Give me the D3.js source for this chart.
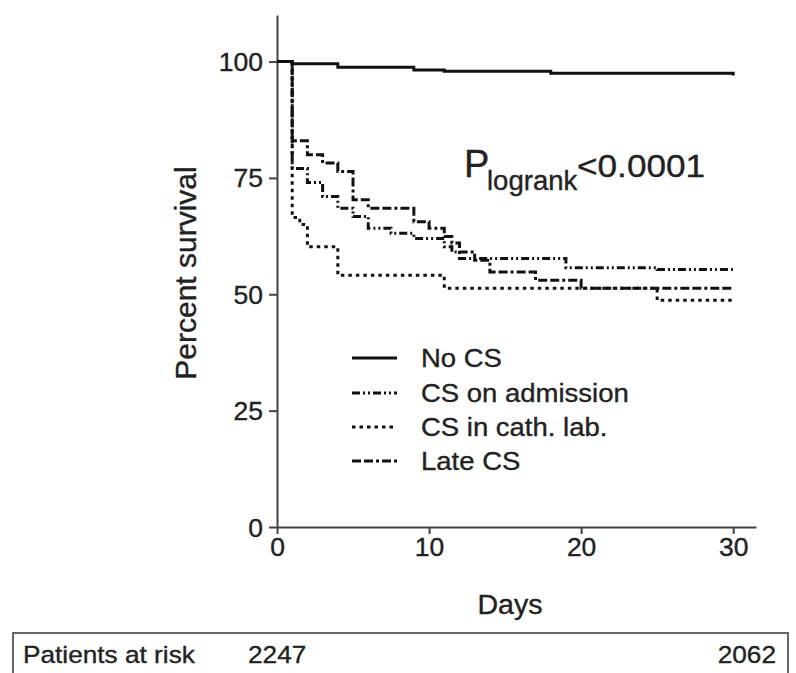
<!DOCTYPE html>
<html><head><meta charset="utf-8">
<script src="https://cdn.jsdelivr.net/npm/d3@7"></script>
<style>
html,body{margin:0;padding:0;background:#fff;}
svg{display:block;}
text{font-family:"Liberation Sans",Arial,Helvetica,sans-serif;fill:#222;stroke:#222;stroke-width:0.35px;}
</style></head>
<body>
<svg id="chart" width="796" height="673"></svg>
<script>
// ---- data ----
const seriesNames = ["No CS", "CS on admission", "CS in cath. lab.", "Late CS"];

const noCsDays = [0, 1, 4, 9, 11, 18, 30];
const noCsSurv = [100, 99.5, 98.8, 98.2, 97.9, 97.5, 97.0];

const admissionDays = [0, 1, 2, 3, 4, 5, 6, 7.5, 9, 11, 11.5, 12, 19, 25, 30];
const admissionSurv = [100, 77.0, 74.0, 71.0, 68.5, 66.7, 64.2, 63.1, 62.0, 60.2, 59.1, 57.7, 55.7, 55.3, 55.3];

const cathLabDays = [0, 1, 1.5, 2, 4, 11, 25, 30];
const cathLabSurv = [100, 66.5, 65.0, 60.2, 54.1, 51.3, 48.7, 48.7];

const lateDays = [0, 1, 2, 3, 4, 5, 6, 9, 10, 11, 11.5, 12, 13, 14, 17, 20, 30];
const lateSurv = [100, 83.0, 80.0, 78.2, 76.4, 70.3, 68.5, 65.6, 64.2, 62.4, 61.0, 59.1, 57.3, 54.8, 53.0, 51.3, 51.3];

const xTicks = [0, 10, 20, 30];
const yTicks = [0, 25, 50, 75, 100];
const riskLabel = "Patients at risk";
const riskValues = ["2247", "2062"];

// ---- drawing ----
const svg = d3.select("#chart");
const ink = "#222";

const x = d3.scaleLinear().domain([0, 31.5]).range([277, 756]);
const y = d3.scaleLinear().domain([0, 110]).range([527, 15]);

function stext(parent, px, py, str, size, anchor, sx) {
  const g = parent.append("g").attr("transform", `translate(${px},${py}) scale(${sx},1)`);
  return g.append("text").attr("text-anchor", anchor).attr("font-size", size).text(str);
}

// axes
const TSX = 1.06;
const yAxis = svg.append("g").attr("transform", `translate(${x(0)},0)`)
  .call(d3.axisLeft(y).tickValues(yTicks).tickSize(8).tickSizeOuter(0).tickPadding(4));
const xAxis = svg.append("g").attr("transform", `translate(0,${y(0)})`)
  .call(d3.axisBottom(x).tickValues(xTicks).tickSize(7).tickSizeOuter(0).tickPadding(4));
[yAxis, xAxis].forEach(a => {
  a.select(".domain").attr("stroke", "#444").attr("stroke-width", 2);
  a.selectAll(".tick line").attr("stroke", "#444").attr("stroke-width", 2);
  a.selectAll(".tick text").attr("font-size", 25).attr("fill", ink)
    .attr("font-family", '"Liberation Sans",Arial,sans-serif')
    .attr("transform", `scale(${TSX},1)`);
});
yAxis.selectAll(".tick text").attr("x", -14 / TSX).attr("dy", "0.36em");
xAxis.selectAll(".tick text").attr("dy", "0.72em");

// axis titles
stext(svg, 510, 614, "Days", 27, "middle", 1.06);
svg.append("text").attr("transform", `translate(196,273) rotate(-90)`)
  .attr("text-anchor", "middle").attr("font-size", 30).text("Percent survival");

// P logrank
stext(svg, 464, 177, "P", 38, "start", 1.0);
stext(svg, 487, 190, "logrank", 27, "start", 1.02);
stext(svg, 577, 177, "<0.0001", 32, "start", 1.1);

// curves
const styles = [
  { dash: null },
  { dash: "8,3,2,3,2,3" },
  { dash: "3.5,4" },
  { dash: "9,3,9,3,3,3" }
];
const allDays = [noCsDays, admissionDays, cathLabDays, lateDays];
const allSurv = [noCsSurv, admissionSurv, cathLabSurv, lateSurv];
const line = d3.line().x(d => x(d[0])).y(d => y(d[1])).curve(d3.curveStepAfter);
allDays.forEach((ds, i) => {
  const pts = ds.map((d, j) => [d, allSurv[i][j]]);
  svg.append("path").datum(pts).attr("d", line)
    .attr("fill", "none").attr("stroke", "#111").attr("stroke-width", 3)
    .attr("stroke-dasharray", styles[i].dash);
});

// legend
const legY = [358, 393, 427, 461];
seriesNames.forEach((n, i) => {
  svg.append("line").attr("x1", 352).attr("x2", 397).attr("y1", legY[i]).attr("y2", legY[i])
    .attr("stroke", "#111").attr("stroke-width", 3).attr("stroke-dasharray", styles[i].dash);
  stext(svg, 421, legY[i] + 9, n, 25, "start", 1.1);
});

// patients at risk box
svg.append("rect").attr("x", 13).attr("y", 633).attr("width", 775).attr("height", 60)
  .attr("fill", "none").attr("stroke", "#555").attr("stroke-width", 1.8);
stext(svg, 23, 663, riskLabel, 24.5, "start", 1.07);
stext(svg, 248, 663, riskValues[0], 24.5, "start", 1.07);
stext(svg, 776, 663, riskValues[1], 24.5, "end", 1.07);
</script>
</body></html>
